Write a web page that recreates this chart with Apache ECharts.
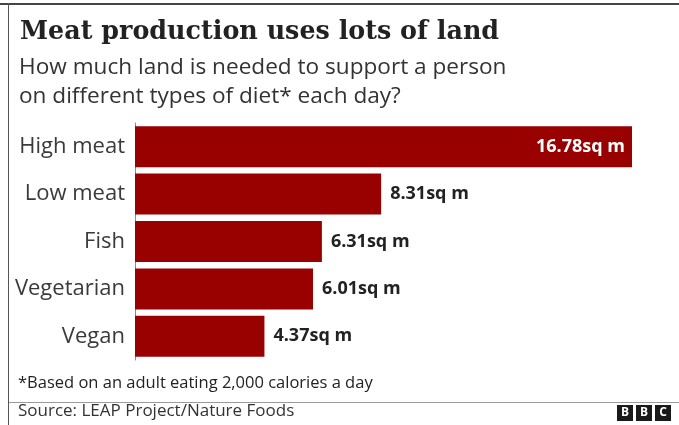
<!DOCTYPE html>
<html>
<head>
<meta charset="utf-8">
<script src="https://cdn.jsdelivr.net/npm/echarts@6/dist/echarts.min.js"></script>
<style>
  html, body { margin: 0; padding: 0; background: #fff; }
  #chart { width: 679px; height: 425px; }
</style>
</head>
<body>
<div id="chart"></div>
<script>
// Land needed per person per day, by diet (square metres)
const diets = ['High meat', 'Low meat', 'Fish', 'Vegetarian', 'Vegan'];
const landSqM = [16.78, 8.31, 6.31, 6.01, 4.37];
const unit = 'sq m';

const chart = echarts.init(document.getElementById('chart'), null, { renderer: 'canvas' });

const sans = '"Open Sans", "Noto Sans", sans-serif';

chart.setOption({
  animation: false,
  backgroundColor: '#ffffff',
  grid: { left: 135, right: 47, top: 123, bottom: 65 },
  xAxis: {
    type: 'value',
    min: 0,
    max: 16.78,
    show: false
  },
  yAxis: {
    type: 'category',
    data: diets,
    inverse: true,
    offset: 2,
    axisLine: { show: true, lineStyle: { color: '#8a8a8a', width: 1 } },
    axisTick: { show: false },
    axisLabel: {
      margin: 8,
      fontFamily: sans,
      fontSize: 22,
      color: '#3a3a3a'
    }
  },
  series: [{
    type: 'bar',
    barWidth: 41,
    itemStyle: { color: '#990000' },
    data: landSqM.map((v, i) => ({
      value: v,
      label: i === 0
        ? { position: 'insideRight', distance: 7, color: '#ffffff' }
        : { position: 'right', distance: 9, color: '#222222' }
    })),
    label: {
      show: true,
      fontFamily: sans,
      fontWeight: 'bold',
      fontSize: 18,
      formatter: p => p.value.toFixed(2) + unit
    }
  }],
  graphic: [
    // frame lines
    { type: 'rect', shape: { x: 0, y: 3, width: 679, height: 2 }, style: { fill: '#444' } },
    { type: 'rect', shape: { x: 8, y: 3, width: 1, height: 422 }, style: { fill: '#555' } },
    { type: 'rect', shape: { x: 9, y: 402, width: 670, height: 1 }, style: { fill: '#9a9a9a' } },
    // headings
    { type: 'text', left: 20, top: 20, style: {
      text: 'Meat production uses lots of land',
      font: 'bold 25.4px "DejaVu Serif", "Liberation Serif", serif', fill: '#222' } },
    { type: 'text', left: 19, top: 53, style: {
      text: 'How much land is needed to support a person\non different types of diet* each day?',
      font: '22.6px ' + sans, lineHeight: 29, fill: '#333' } },
    // footnote and source
    { type: 'text', left: 18, top: 375, style: {
      text: '*Based on an adult eating 2,000 calories a day',
      font: '16.5px ' + sans, fill: '#222' } },
    { type: 'text', left: 18, top: 403, style: {
      text: 'Source: LEAP Project/Nature Foods',
      font: '17px ' + sans, fill: '#333' } },
    // logo blocks
    { type: 'group', left: 617, top: 405, children: ['B', 'B', 'C'].flatMap((ch, i) => [
      { type: 'rect', shape: { x: i * 19, y: 0, width: 16, height: 16 }, style: { fill: '#1a1a1a' } },
      { type: 'text', x: i * 19 + 8, y: 8, style: { text: ch, font: 'bold 12px ' + sans, fill: '#fff', align: 'center', verticalAlign: 'middle' } }
    ]) }
  ]
});
</script>
</body>
</html>
